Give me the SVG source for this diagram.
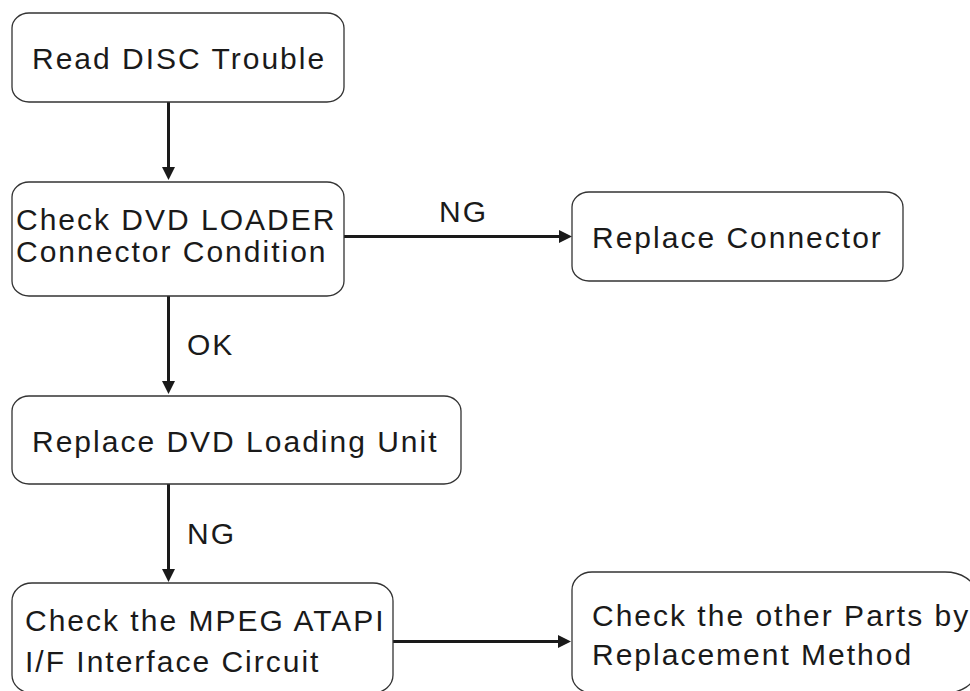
<svg xmlns="http://www.w3.org/2000/svg" width="970" height="691" viewBox="0 0 970 691">
<defs>
<style>
.box{fill:#fff;stroke:#333;stroke-width:1.3}
.t{font-family:"Liberation Sans",Arial,sans-serif;font-size:30px;letter-spacing:2px;fill:#1a1a1a}
.c{stroke:#1a1a1a;stroke-width:3;fill:none}
</style>
<marker id="ah" viewBox="0 0 13 13" refX="5" refY="6.5" markerWidth="13" markerHeight="13" markerUnits="userSpaceOnUse" orient="auto">
<path d="M0,0 L13,6.5 L0,13 z" fill="#1a1a1a"/>
</marker>
</defs>
<rect width="970" height="691" fill="#fff"/>
<g id="connectors">
<line class="c" x1="168.5" y1="102" x2="168.5" y2="172" marker-end="url(#ah)"/>
<line class="c" x1="344" y1="236.5" x2="564" y2="236.5" marker-end="url(#ah)"/>
<line class="c" x1="168.5" y1="296" x2="168.5" y2="386" marker-end="url(#ah)"/>
<line class="c" x1="168.5" y1="484" x2="168.5" y2="574" marker-end="url(#ah)"/>
<line class="c" x1="393" y1="641.5" x2="563" y2="641.5" marker-end="url(#ah)"/>
<text class="t" x="439" y="222">NG</text>
<text class="t" x="187" y="355">OK</text>
<text class="t" x="187" y="544">NG</text>
</g>
<g id="n1">
<rect class="box" x="12" y="13" width="332" height="89" rx="17" ry="15"/>
<text class="t" x="32" y="69">Read DISC Trouble</text>
</g>
<g id="n2">
<rect class="box" x="12" y="182" width="332" height="114" rx="17" ry="15"/>
<text class="t" x="16" y="230">Check DVD LOADER</text>
<text class="t" x="16" y="262">Connector Condition</text>
</g>
<g id="n3">
<rect class="box" x="572" y="192" width="331" height="89" rx="17" ry="15"/>
<text class="t" x="592" y="248">Replace Connector</text>
</g>
<g id="n4">
<rect class="box" x="12" y="396" width="449" height="88" rx="17" ry="15"/>
<text class="t" x="32" y="452">Replace DVD Loading Unit</text>
</g>
<g id="n5">
<rect class="box" x="12" y="583" width="381" height="110" rx="20" ry="18"/>
<text class="t" x="25" y="631">Check the MPEG ATAPI</text>
<text class="t" x="25" y="672">I/F Interface Circuit</text>
</g>
<g id="n6">
<path class="box" d="M592,572 H945 A30,20 0 0 1 975,592 V673 A30,20 0 0 1 945,693 H592 A20,18 0 0 1 572,675 V590 A20,18 0 0 1 592,572 Z"/>
<text class="t" x="592" y="626">Check the other Parts by</text>
<text class="t" x="592" y="665">Replacement Method</text>
</g>
</svg>
